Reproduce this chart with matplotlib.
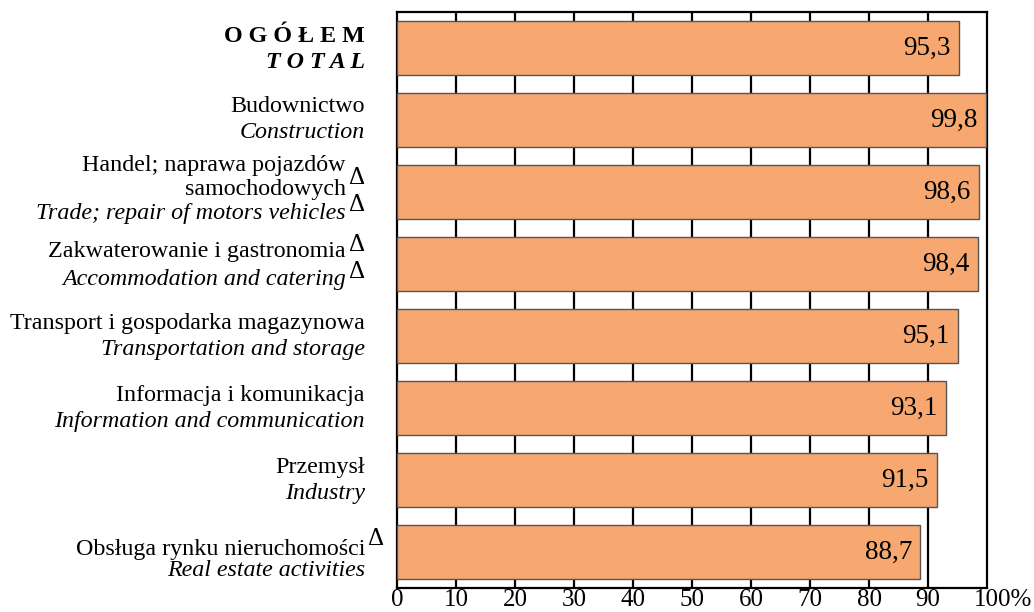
import matplotlib.pyplot as plt
import matplotlib.transforms as mtransforms

plt.rcParams['font.family'] = ['Liberation Serif', 'DejaVu Serif']

# data, top to bottom
names_pl = ["O G Ó Ł E M", "Budownictwo", "Handel; naprawa pojazdów\nsamochodowych",
            "Zakwaterowanie i gastronomia", "Transport i gospodarka magazynowa",
            "Informacja i komunikacja", "Przemysł", "Obsługa rynku nieruchomości"]
names_en = ["T O T A L", "Construction", "Trade; repair of motors vehicles",
            "Accommodation and catering", "Transportation and storage",
            "Information and communication", "Industry", "Real estate activities"]
values = [95.3, 99.8, 98.6, 98.4, 95.1, 93.1, 91.5, 88.7]
value_labels = ["95,3", "99,8", "98,6", "98,4", "95,1", "93,1", "91,5", "88,7"]
ticks = [0, 10, 20, 30, 40, 50, 60, 70, 80, 90, 100]
tick_labels = ["0", "10", "20", "30", "40", "50", "60", "70", "80", "90", "100%"]

fig = plt.figure(figsize=(10.34, 6.12), dpi=100)
ax = fig.add_axes([397/1034, 1 - 588/612, 590/1034, 576/612])

y = list(range(len(values)))
ax.barh(y, values, height=0.76, color="#F7A870", edgecolor="#555555", linewidth=1.0, zorder=3)
ax.set_ylim(len(values) - 0.5, -0.5)
ax.set_xlim(0, 100)

for x in ticks[1:-1]:
    ax.axvline(x, color="black", lw=1.6, zorder=1)
for s in ax.spines.values():
    s.set_linewidth(1.6)

ax.set_yticks([])
ax.set_xticks(ticks)
ax.set_xticklabels(tick_labels, fontsize=18)
ax.tick_params(axis="x", length=0, pad=1)
last = ax.get_xticklabels()[-1]
last.set_ha("left")
last.set_transform(last.get_transform() + mtransforms.ScaledTranslation(-13/100, 0, fig.dpi_scale_trans))

# values inside bars
for i, (v, lab) in enumerate(zip(values, value_labels)):
    ax.annotate(lab, (v, i), xytext=(-6, 0), textcoords="offset points",
                ha="right", va="center", fontsize=19.5, zorder=4)

px = 0.72  # points per pixel


def line(text, i, dy, xa, **kw):
    tr = mtransforms.offset_copy(ax.get_yaxis_transform(), fig, x=0, y=-dy*px, units="points")
    ax.text(xa, i, text, transform=tr, ha="right", va="center", fontsize=17.3, clip_on=False, **kw)


def delta(i, dy, xa):
    tr = mtransforms.offset_copy(ax.get_yaxis_transform(), fig, x=3*px, y=-dy*px, units="points")
    ax.text(xa, i, "Δ", transform=tr, ha="left", va="center", fontsize=18, clip_on=False)


xa = (365 - 397) / 590
xb = (346 - 397) / 590

# total
line(names_pl[0], 0, -11, xa, fontweight="bold")
line(names_en[0], 0, 15, xa, fontweight="bold", style="italic")
# construction
line(names_pl[1], 1, -13, xa)
line(names_en[1], 1, 13, xa, style="italic")
# trade
pl1, pl2 = names_pl[2].split("\n")
line(pl1, 2, -27, xb)
line(pl2, 2, -3, xb)
line(names_en[2], 2, 21, xb, style="italic")
delta(2, -14, xb)
delta(2, 13, xb)
# accommodation
line(names_pl[3], 3, -12, xb)
line(names_en[3], 3, 15, xb, style="italic")
delta(3, -19, xb)
delta(3, 8, xb)
# the rest
for i in range(4, 7):
    line(names_pl[i], i, -13, xa)
    line(names_en[i], i, 13, xa, style="italic")
line(names_pl[7], 7, -2, xa)
line(names_en[7], 7, 19, xa, style="italic")
delta(7, -13, xa)

fig.savefig("out.png", dpi=100)
